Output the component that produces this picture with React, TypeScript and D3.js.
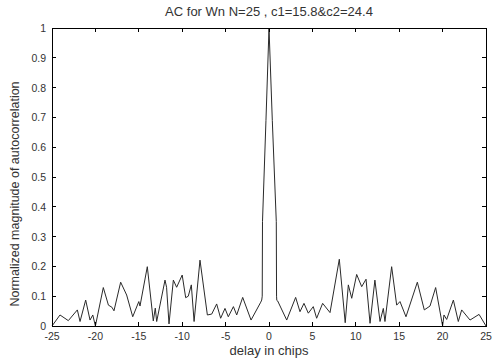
import React from "react";
import * as d3 from "d3";

const delays: number[] = [
  -25, -24.08, -23.12, -22.08, -21.77, -21.12, -20.62, -20.3, -20.0, -19.09,
  -18.5, -18.1, -17.86, -17.09, -16.4, -15.7, -15.0, -14.86, -14.02, -13.33,
  -13.1, -12.94, -11.98, -11.8, -11.52, -11.02, -10.64, -10.0, -9.6, -9.3,
  -8.95, -8.63, -7.95, -7.1, -6.6, -6.03, -5.57, -5.07, -4.69, -4.1,
  -3.72, -3.03, -2.07, -0.95, -0.84, -0.78, -0.75, -0.35, 0, 0.38,
  0.84, 0.87, 0.9, 1.0, 2.04, 3.07, 3.57, 4.03, 4.53, 5.1,
  5.49, 6.18, 7.03, 8.1, 8.78, 9.14, 9.53, 10.1, 10.68, 11.18,
  11.64, 12.2, 12.79, 13.17, 13.36, 14.13, 14.71, 15.09, 15.78, 17.09,
  17.89, 18.55, 19.2, 20.0, 20.16, 20.47, 21.24, 21.81, 22.2, 23.16,
  24.2, 25,
];

const magnitudes: number[] = [
  0.0, 0.037, 0.018, 0.054, 0.015, 0.087, 0.02, 0.037, 0.0, 0.129,
  0.07, 0.063, 0.051, 0.147, 0.104, 0.031, 0.082, 0.067, 0.199, 0.017,
  0.06, 0.015, 0.154, 0.13, 0.007, 0.154, 0.13, 0.171, 0.095, 0.1,
  0.138, 0.015, 0.221, 0.037, 0.04, 0.074, 0.026, 0.059, 0.031, 0.065,
  0.037, 0.096, 0.02, 0.08, 0.087, 0.1, 0.35, 0.69, 1.0, 0.69,
  0.35, 0.1, 0.086, 0.084, 0.02, 0.096, 0.048, 0.076, 0.043, 0.065,
  0.026, 0.076, 0.045, 0.224, 0.011, 0.138, 0.093, 0.173, 0.132, 0.157,
  0.009, 0.154, 0.015, 0.059, 0.015, 0.199, 0.07, 0.082, 0.031, 0.147,
  0.054, 0.067, 0.129, 0.0, 0.037, 0.022, 0.087, 0.015, 0.054, 0.02,
  0.039, 0.0,
];

const xTicks: number[] = [-25, -20, -15, -10, -5, 0, 5, 10, 15, 20, 25];
const yTicks: number[] = [0, 0.1, 0.2, 0.3, 0.4, 0.5, 0.6, 0.7, 0.8, 0.9, 1];

const titleText = "AC for Wn N=25 , c1=15.8&c2=24.4";
const xLabelText = "delay in chips";
const yLabelText = "Normalized magnitude of autocorrelation";

export default function App() {
  const W = 493;
  const H = 358;
  const left = 52;
  const right = 486;
  const top = 28;
  const bottom = 326;
  const x = d3.scaleLinear().domain([-25, 25]).range([left, right]);
  const y = d3.scaleLinear().domain([0, 1]).range([bottom, top]);
  const pts: [number, number][] = delays.map((d, i) => [d, magnitudes[i]]);
  const line = d3
    .line<[number, number]>()
    .x((p) => x(p[0]))
    .y((p) => y(p[1]));
  const tl = 4;
  const font = "Liberation Sans, Arial, sans-serif";
  const textCol = "#333";
  return (
    <svg
      width={W}
      height={H}
      style={{ position: "fixed", left: 0, top: 0, background: "#fff" }}
      fontFamily={font}
    >
      <rect x={0} y={0} width={W} height={H} fill="#fff" />
      <path d={line(pts) || ""} fill="none" stroke="#2a2a2a" strokeWidth={1} />
      <rect
        x={left}
        y={top}
        width={right - left}
        height={bottom - top}
        fill="none"
        stroke="#000"
        strokeWidth={1}
        shapeRendering="crispEdges"
      />
      {xTicks.map((t) => (
        <g key={"xt" + t} shapeRendering="crispEdges">
          <line x1={x(t)} x2={x(t)} y1={bottom} y2={bottom - tl} stroke="#000" />
          <line x1={x(t)} x2={x(t)} y1={top} y2={top + tl} stroke="#000" />
          <text
            x={x(t)}
            y={bottom + 14}
            textAnchor="middle"
            fontSize={10.5}
            fill={textCol}
          >
            {t}
          </text>
        </g>
      ))}
      {yTicks.map((t) => (
        <g key={"yt" + t} shapeRendering="crispEdges">
          <line x1={left} x2={left + tl} y1={y(t)} y2={y(t)} stroke="#000" />
          <line x1={right} x2={right - tl} y1={y(t)} y2={y(t)} stroke="#000" />
          <text
            x={left - 6}
            y={y(t) + 4}
            textAnchor="end"
            fontSize={10.5}
            fill={textCol}
          >
            {t}
          </text>
        </g>
      ))}
      <text
        x={(left + right) / 2}
        y={16}
        textAnchor="middle"
        fontSize={13}
        fill={textCol}
      >
        {titleText}
      </text>
      <text
        x={(left + right) / 2}
        y={355}
        textAnchor="middle"
        fontSize={13}
        fill={textCol}
      >
        {xLabelText}
      </text>
      <text
        transform={`translate(19, 194) rotate(-90)`}
        textAnchor="middle"
        fontSize={12.5}
        fill={textCol}
      >
        {yLabelText}
      </text>
    </svg>
  );
}
